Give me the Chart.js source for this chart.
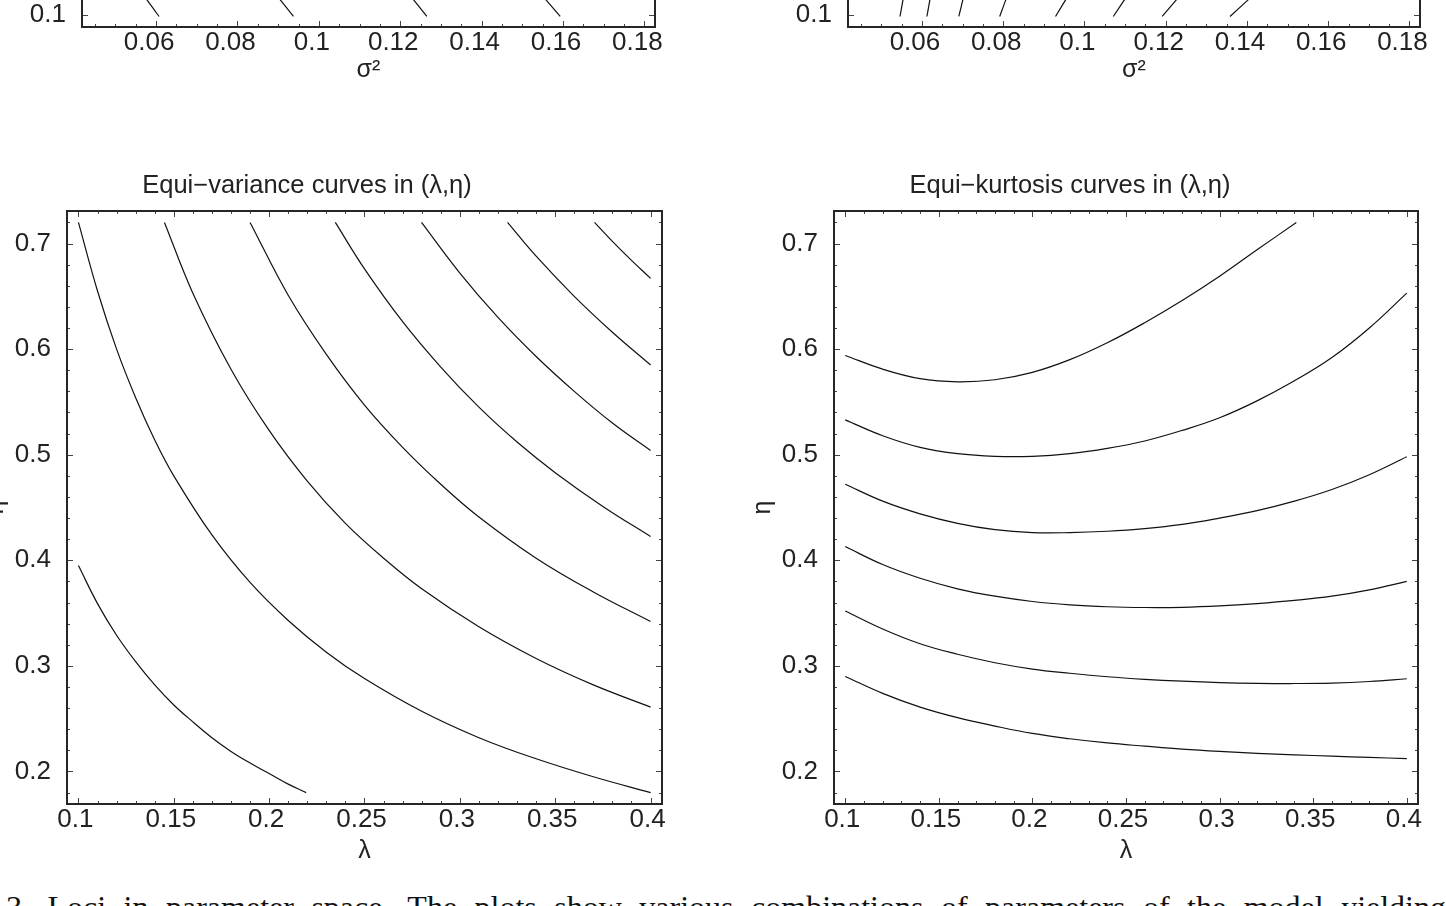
<!DOCTYPE html>
<html>
<head>
<meta charset="utf-8">
<script src="https://cdn.jsdelivr.net/npm/chart.js@4.4.1/dist/chart.umd.min.js"></script>
<style>
html, body { margin: 0; padding: 0; background: #fff; }
body { position: relative; width: 1446px; height: 906px; overflow: hidden; }
canvas { position: absolute; }
#caption {
    position: absolute; left: 6px; top: 891px; width: 1440px;
    font: 32px/32px "Liberation Serif", serif; color: #111;
    white-space: nowrap; text-align: justify; text-align-last: justify;
}
</style>
</head>
<body>
<canvas id="topLeft" width="690" height="700" style="left:0px;top:-600px"></canvas>
<canvas id="topRight" width="690" height="700" style="left:760px;top:-600px"></canvas>
<canvas id="varChart" width="730" height="700" style="left:-58px;top:170px"></canvas>
<canvas id="kurtChart" width="716" height="700" style="left:712px;top:170px"></canvas>
<div id="caption">3. Loci in parameter space. The plots show various combinations of parameters of the model yielding</div>

<script>
// tick labels
const lambdaTicks = [0.1, 0.15, 0.2, 0.25, 0.3, 0.35, 0.4]
const etaTicks = [0.2, 0.3, 0.4, 0.5, 0.6, 0.7]
const sigmaTicks = [0.06, 0.08, 0.1, 0.12, 0.14, 0.16, 0.18]
const etaTopTicks = [0.1]

// equi-variance curves, [lambda, eta]
const var1 = [[0.1, 0.395], [0.11, 0.359], [0.12, 0.329], [0.13, 0.304], [0.14, 0.282], [0.15, 0.263], [0.16, 0.247], [0.17, 0.232], [0.18, 0.219], [0.19, 0.208], [0.2, 0.198], [0.21, 0.188], [0.2194, 0.18]]
const var2 = [[0.1, 0.72], [0.11, 0.655], [0.12, 0.6], [0.13, 0.554], [0.14, 0.514], [0.15, 0.48], [0.17, 0.424], [0.19, 0.379], [0.21, 0.343], [0.23, 0.313], [0.25, 0.288], [0.28, 0.257], [0.31, 0.232], [0.34, 0.212], [0.37, 0.195], [0.4, 0.18]]
const var3 = [[0.1451, 0.72], [0.16, 0.653], [0.18, 0.581], [0.2, 0.523], [0.22, 0.475], [0.24, 0.435], [0.26, 0.402], [0.28, 0.373], [0.31, 0.337], [0.34, 0.307], [0.37, 0.282], [0.4, 0.261]]
const var4 = [[0.19, 0.72], [0.21, 0.651], [0.23, 0.595], [0.25, 0.547], [0.27, 0.507], [0.29, 0.472], [0.31, 0.441], [0.34, 0.402], [0.37, 0.37], [0.4, 0.342]]
const var5 = [[0.2347, 0.72], [0.25, 0.676], [0.27, 0.626], [0.29, 0.583], [0.31, 0.545], [0.33, 0.512], [0.35, 0.483], [0.375, 0.451], [0.4, 0.4225]]
const var6 = [[0.2799, 0.72], [0.3, 0.672], [0.32, 0.63], [0.34, 0.593], [0.36, 0.56], [0.38, 0.53], [0.4, 0.504]]
const var7 = [[0.325, 0.72], [0.34, 0.688], [0.36, 0.65], [0.38, 0.616], [0.4, 0.585]]
const var8 = [[0.3706, 0.72], [0.38, 0.702], [0.39, 0.684], [0.4, 0.667]]

// equi-kurtosis curves, [lambda, eta]
const kurt1 = [[0.1, 0.594], [0.12, 0.581], [0.14, 0.572], [0.16, 0.569], [0.18, 0.571], [0.2, 0.578], [0.22, 0.59], [0.24, 0.606], [0.26, 0.625], [0.28, 0.646], [0.3, 0.669], [0.32, 0.694], [0.341, 0.72]]
const kurt2 = [[0.1, 0.533], [0.12, 0.518], [0.14, 0.507], [0.16, 0.501], [0.18, 0.4985], [0.2, 0.4985], [0.22, 0.501], [0.24, 0.506], [0.26, 0.513], [0.28, 0.523], [0.3, 0.535], [0.32, 0.551], [0.34, 0.57], [0.36, 0.592], [0.38, 0.62], [0.4, 0.653]]
const kurt3 = [[0.1, 0.472], [0.12, 0.456], [0.14, 0.444], [0.16, 0.435], [0.18, 0.429], [0.2, 0.4262], [0.22, 0.4262], [0.24, 0.4275], [0.26, 0.43], [0.28, 0.434], [0.3, 0.44], [0.32, 0.447], [0.34, 0.456], [0.36, 0.467], [0.38, 0.481], [0.4, 0.498]]
const kurt4 = [[0.1, 0.413], [0.12, 0.396], [0.14, 0.383], [0.16, 0.373], [0.18, 0.366], [0.2, 0.361], [0.22, 0.3578], [0.24, 0.356], [0.26, 0.3553], [0.28, 0.3555], [0.3, 0.3568], [0.32, 0.359], [0.34, 0.362], [0.36, 0.366], [0.38, 0.372], [0.4, 0.38]]
const kurt5 = [[0.1, 0.352], [0.12, 0.335], [0.14, 0.321], [0.16, 0.311], [0.18, 0.303], [0.2, 0.297], [0.22, 0.293], [0.24, 0.2897], [0.26, 0.2873], [0.28, 0.2855], [0.3, 0.2842], [0.32, 0.2835], [0.34, 0.2833], [0.36, 0.2837], [0.38, 0.2852], [0.4, 0.2878]]
const kurt6 = [[0.1, 0.29], [0.12, 0.274], [0.14, 0.261], [0.16, 0.251], [0.18, 0.243], [0.2, 0.236], [0.22, 0.231], [0.24, 0.227], [0.26, 0.224], [0.28, 0.2212], [0.3, 0.219], [0.32, 0.2172], [0.34, 0.2158], [0.36, 0.2145], [0.38, 0.2133], [0.4, 0.2122]]

// visible ends of the curves in the two upper panels, [sigma2, y]
const topLeftSegs = [
    [[0.05668, 0.12], [0.06074, 0.0986]],
    [[0.08935, 0.12], [0.09376, 0.0986]],
    [[0.12212, 0.12], [0.12654, 0.0986]],
    [[0.15455, 0.12], [0.15931, 0.0986]]
]
const topRightSegs = [
    [[0.05561, 0.12], [0.0546, 0.0986]],
    [[0.06223, 0.12], [0.06122, 0.0986]],
    [[0.07043, 0.12], [0.06908, 0.0986]],
    [[0.08118, 0.12], [0.07914, 0.0986]],
    [[0.09627, 0.12], [0.09288, 0.0986]],
    [[0.11082, 0.12], [0.10711, 0.0986]],
    [[0.12388, 0.12], [0.11914, 0.0986]],
    [[0.14191, 0.12], [0.13583, 0.0986]]
]

Chart.defaults.font.family = '"Liberation Sans", Arial, sans-serif'
Chart.defaults.color = '#222'

const tickFont = { size: 26, weight: 'normal', lineHeight: 1.2 }
const titleFont = { size: 25.5, weight: 'normal', lineHeight: 1.2 }
const axisFont = { size: 25, weight: 'normal', lineHeight: 1.2 }

// ticks drawn inward on all four sides + frame
const frameTicks = {
    id: 'frameTicks',
    afterDatasetsDraw(chart, args, o) {
        const { ctx, chartArea: a, scales: { x, y } } = chart
        ctx.save()
        ctx.strokeStyle = '#444'
        ctx.lineWidth = 1
        ctx.beginPath()
        const xMark = (v, len) => {
            const p = Math.round(x.getPixelForValue(v)) + 0.5
            ctx.moveTo(p, a.bottom); ctx.lineTo(p, a.bottom - len)
            ctx.moveTo(p, a.top); ctx.lineTo(p, a.top + len)
        }
        const yMark = (v, len) => {
            const p = Math.round(y.getPixelForValue(v)) + 0.5
            ctx.moveTo(a.left, p); ctx.lineTo(a.left + len, p)
            ctx.moveTo(a.right, p); ctx.lineTo(a.right - len, p)
        }
        const minor = (step, min, max, f) => {
            for (let i = Math.ceil(min / step - 1e-9); i * step <= max + 1e-9; i++) f(i * step, 3)
        }
        if (o.xMinor) minor(o.xMinor, x.min, x.max, xMark)
        if (o.yMinor) minor(o.yMinor, y.min, y.max, yMark)
        o.xMajor.forEach(v => xMark(v, 6))
        o.yMajor.forEach(v => yMark(v, 6))
        ctx.stroke()
        ctx.lineWidth = 2
        ctx.strokeStyle = '#262626'
        ctx.strokeRect(a.left, a.top, a.right - a.left, a.bottom - a.top)
        ctx.restore()
    }
}

const curve = arr => ({
    data: arr.map(([x, y]) => ({ x, y })),
    showLine: true,
    borderColor: '#111',
    borderWidth: 1.2,
    pointRadius: 0,
    fill: false,
    tension: 0.4
})

const xScale = (min, max, ticks, title, height, tickPad, titlePad, shift) => ({
    type: 'linear', position: 'bottom', min, max,
    grid: { display: false, drawTicks: false },
    border: { display: false },
    afterBuildTicks: s => { s.ticks = ticks.map(value => ({ value })) },
    afterFit: s => { s.height = height; s.paddingLeft = 0; s.paddingRight = 0 },
    ticks: { font: tickFont, color: '#222', padding: tickPad, labelOffset: shift, maxRotation: 0, autoSkip: false, callback: v => String(v) },
    title: { display: true, text: title, font: axisFont, color: '#222', padding: { top: 0, bottom: titlePad } }
})

const yScale = (min, max, ticks, title, width, titlePad) => ({
    type: 'linear', position: 'left', min, max,
    grid: { display: false, drawTicks: false },
    border: { display: false },
    afterBuildTicks: s => { s.ticks = ticks.map(value => ({ value })) },
    afterFit: s => { s.width = width; s.paddingTop = 0; s.paddingBottom = 0 },
    ticks: { font: tickFont, color: '#222', padding: 16, autoSkip: false, callback: v => String(v) },
    title: { display: !!title, text: title, font: axisFont, color: '#222', padding: { top: titlePad, bottom: 0 } }
})

const makeChart = (id, sets, scales, pad, title, marks) => new Chart(document.getElementById(id), {
    type: 'scatter',
    data: { datasets: sets.map(curve) },
    options: {
        responsive: false,
        animation: false,
        devicePixelRatio: 1,
        layout: { padding: pad },
        scales,
        plugins: {
            legend: { display: false },
            tooltip: { enabled: false },
            title: title ? { display: true, text: title, font: titleFont, color: '#222', padding: { top: 1.1, bottom: 9.3 } } : { display: false },
            frameTicks: marks
        }
    },
    plugins: [frameTicks]
})

// upper panels (only their bottom strip is in view)
makeChart('topLeft', topLeftSegs,
    { x: xScale(0.0418, 0.1826, sigmaTicks, 'σ²', 73, 0, 15, -7), y: yScale(0.08866, 0.6491, etaTopTicks, '', 82, 0) },
    { left: 0, right: 35, top: 34, bottom: 0 }, null,
    { xMinor: 0.005, xMajor: sigmaTicks, yMajor: etaTopTicks })

makeChart('topRight', topRightSegs,
    { x: xScale(0.0418, 0.1826, sigmaTicks, 'σ²', 73, 0, 15, -7), y: yScale(0.08866, 0.6491, etaTopTicks, '', 88, 0) },
    { left: 0, right: 30, top: 34, bottom: 0 }, null,
    { xMinor: 0.005, xMajor: sigmaTicks, yMajor: etaTopTicks })

// lower panels
makeChart('varChart', [var1, var2, var3, var4, var5, var6, var7, var8],
    { x: xScale(0.094, 0.406, lambdaTicks, 'λ', 66, 0.4, 4, -3), y: yScale(0.1692, 0.7308, etaTicks, 'η', 115, 29) },
    { left: 10, right: 10, top: 0, bottom: 0 }, 'Equi\u2212variance curves in (λ,η)',
    { xMinor: 0.01, yMinor: 0.02, xMajor: lambdaTicks, yMajor: etaTicks })

makeChart('kurtChart', [kurt1, kurt2, kurt3, kurt4, kurt5, kurt6],
    { x: xScale(0.094, 0.406, lambdaTicks, 'λ', 66, 0.4, 4, -3), y: yScale(0.1692, 0.7308, etaTicks, 'η', 112, 26) },
    { left: 10, right: 10, top: 0, bottom: 0 }, 'Equi\u2212kurtosis curves in (λ,η)',
    { xMinor: 0.01, yMinor: 0.02, xMajor: lambdaTicks, yMajor: etaTicks })
</script>
</body>
</html>
